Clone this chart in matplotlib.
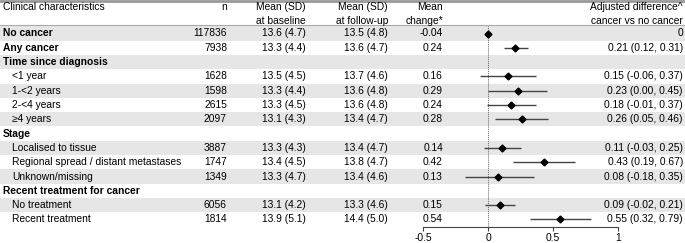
import numpy as np
import matplotlib.pyplot as plt

plt.rcParams['font.family'] = ['Liberation Sans', 'DejaVu Sans']

labels = ["No cancer", "Any cancer", "Time since diagnosis", "<1 year", "1-<2 years",
          "2-<4 years", "\u22654 years", "Stage", "Localised to tissue",
          "Regional spread / distant metastases", "Unknown/missing",
          "Recent treatment for cancer", "No treatment", "Recent treatment"]
bold = [True, True, True, False, False, False, False, True, False, False, False,
        True, False, False]
n = ["117836", "7938", "", "1628", "1598", "2615", "2097", "", "3887", "1747",
     "1349", "", "6056", "1814"]
baseline = ["13.6 (4.7)", "13.3 (4.4)", "", "13.5 (4.5)", "13.3 (4.4)", "13.3 (4.5)",
            "13.1 (4.3)", "", "13.3 (4.3)", "13.4 (4.5)", "13.3 (4.7)", "",
            "13.1 (4.2)", "13.9 (5.1)"]
followup = ["13.5 (4.8)", "13.6 (4.7)", "", "13.7 (4.6)", "13.6 (4.8)", "13.6 (4.8)",
            "13.4 (4.7)", "", "13.4 (4.7)", "13.8 (4.7)", "13.4 (4.6)", "",
            "13.3 (4.6)", "14.4 (5.0)"]
change = ["-0.04", "0.24", "", "0.16", "0.29", "0.24", "0.28", "", "0.14", "0.42",
          "0.13", "", "0.15", "0.54"]
est = [0, 0.21, np.nan, 0.15, 0.23, 0.18, 0.26, np.nan, 0.11, 0.43, 0.08, np.nan,
       0.09, 0.55]
lo = [np.nan, 0.12, np.nan, -0.06, 0.00, -0.01, 0.05, np.nan, -0.03, 0.19, -0.18,
      np.nan, -0.02, 0.32]
hi = [np.nan, 0.31, np.nan, 0.37, 0.45, 0.37, 0.46, np.nan, 0.25, 0.67, 0.35,
      np.nan, 0.21, 0.79]
diff_txt = ["0", "0.21 (0.12, 0.31)", "", "0.15 (-0.06, 0.37)", "0.23 (0.00, 0.45)",
            "0.18 (-0.01, 0.37)", "0.26 (0.05, 0.46)", "", "0.11 (-0.03, 0.25)",
            "0.43 (0.19, 0.67)", "0.08 (-0.18, 0.35)", "", "0.09 (-0.02, 0.21)",
            "0.55 (0.32, 0.79)"]

W, H = 685, 243
y0, dy = 33.5, 14.3
fs = 7.4

fig = plt.figure(figsize=(W / 100, H / 100), dpi=100)
ax = fig.add_axes([0, 0, 1, 1])
ax.set_xlim(0, W)
ax.set_ylim(H, 0)
ax.axis("off")

rows = np.arange(len(labels))
ypos = y0 + dy * rows
for i, y in enumerate(ypos):
    if i % 2 == 0:
        ax.axhspan(y - dy / 2, y + dy / 2, color="#e6e6e6", lw=0, zorder=0)
    indent = 3 if bold[i] else 12
    ax.text(indent, y, labels[i], fontsize=fs, va="center",
            fontweight="bold" if bold[i] else "normal")
    ax.text(227, y, n[i], fontsize=fs, va="center", ha="right")
    ax.text(306, y, baseline[i], fontsize=fs, va="center", ha="right")
    ax.text(388, y, followup[i], fontsize=fs, va="center", ha="right")
    ax.text(443, y, change[i], fontsize=fs, va="center", ha="right")
    ax.text(683, y, diff_txt[i], fontsize=fs, va="center", ha="right")

# header
ax.axhline(1, color="#999999", lw=2)
ax.axhline(25, color="#aaaaaa", lw=0.8)
ax.text(3, 7, "Clinical characteristics", fontsize=fs, va="center")
ax.text(227, 7, "n", fontsize=fs, va="center", ha="right")
ax.text(306, 7, "Mean (SD)", fontsize=fs, va="center", ha="right")
ax.text(306, 20.5, "at baseline", fontsize=fs, va="center", ha="right")
ax.text(388, 7, "Mean (SD)", fontsize=fs, va="center", ha="right")
ax.text(388, 20.5, "at follow-up", fontsize=fs, va="center", ha="right")
ax.text(443, 7, "Mean", fontsize=fs, va="center", ha="right")
ax.text(443, 20.5, "change*", fontsize=fs, va="center", ha="right")
ax.text(683, 7, "Adjusted difference^", fontsize=fs, va="center", ha="right")
ax.text(683, 20.5, "cancer vs no cancer", fontsize=fs, va="center", ha="right")

# forest plot
xl, xr, ytop, ybot = 423, 618, 26, 227
axf = fig.add_axes([xl / W, (H - ybot) / H, (xr - xl) / W, (ybot - ytop) / H])
axf.set_facecolor("none")
axf.set_xlim(-0.5, 1)
axf.set_ylim((ybot - y0) / dy, (ytop - y0) / dy)
for s in ["top", "right", "left"]:
    axf.spines[s].set_visible(False)
axf.spines["bottom"].set_color("#444444")
axf.spines["bottom"].set_linewidth(0.8)
axf.set_yticks([])
axf.set_xticks([-0.5, 0, 0.5, 1])
axf.set_xticklabels(["-0.5", "0", "0.5", "1"])
axf.tick_params(axis="x", labelsize=fs, length=3, width=0.8, color="#444444", pad=1)
axf.axvline(0, color="#666666", lw=0.7, ls=(0, (1, 1)))
axf.hlines(rows, lo, hi, color="#444444", lw=1, clip_on=False)
axf.plot(est, rows, "D", color="black", ms=3.5, clip_on=False)

fig.savefig("out.png", dpi=100)
